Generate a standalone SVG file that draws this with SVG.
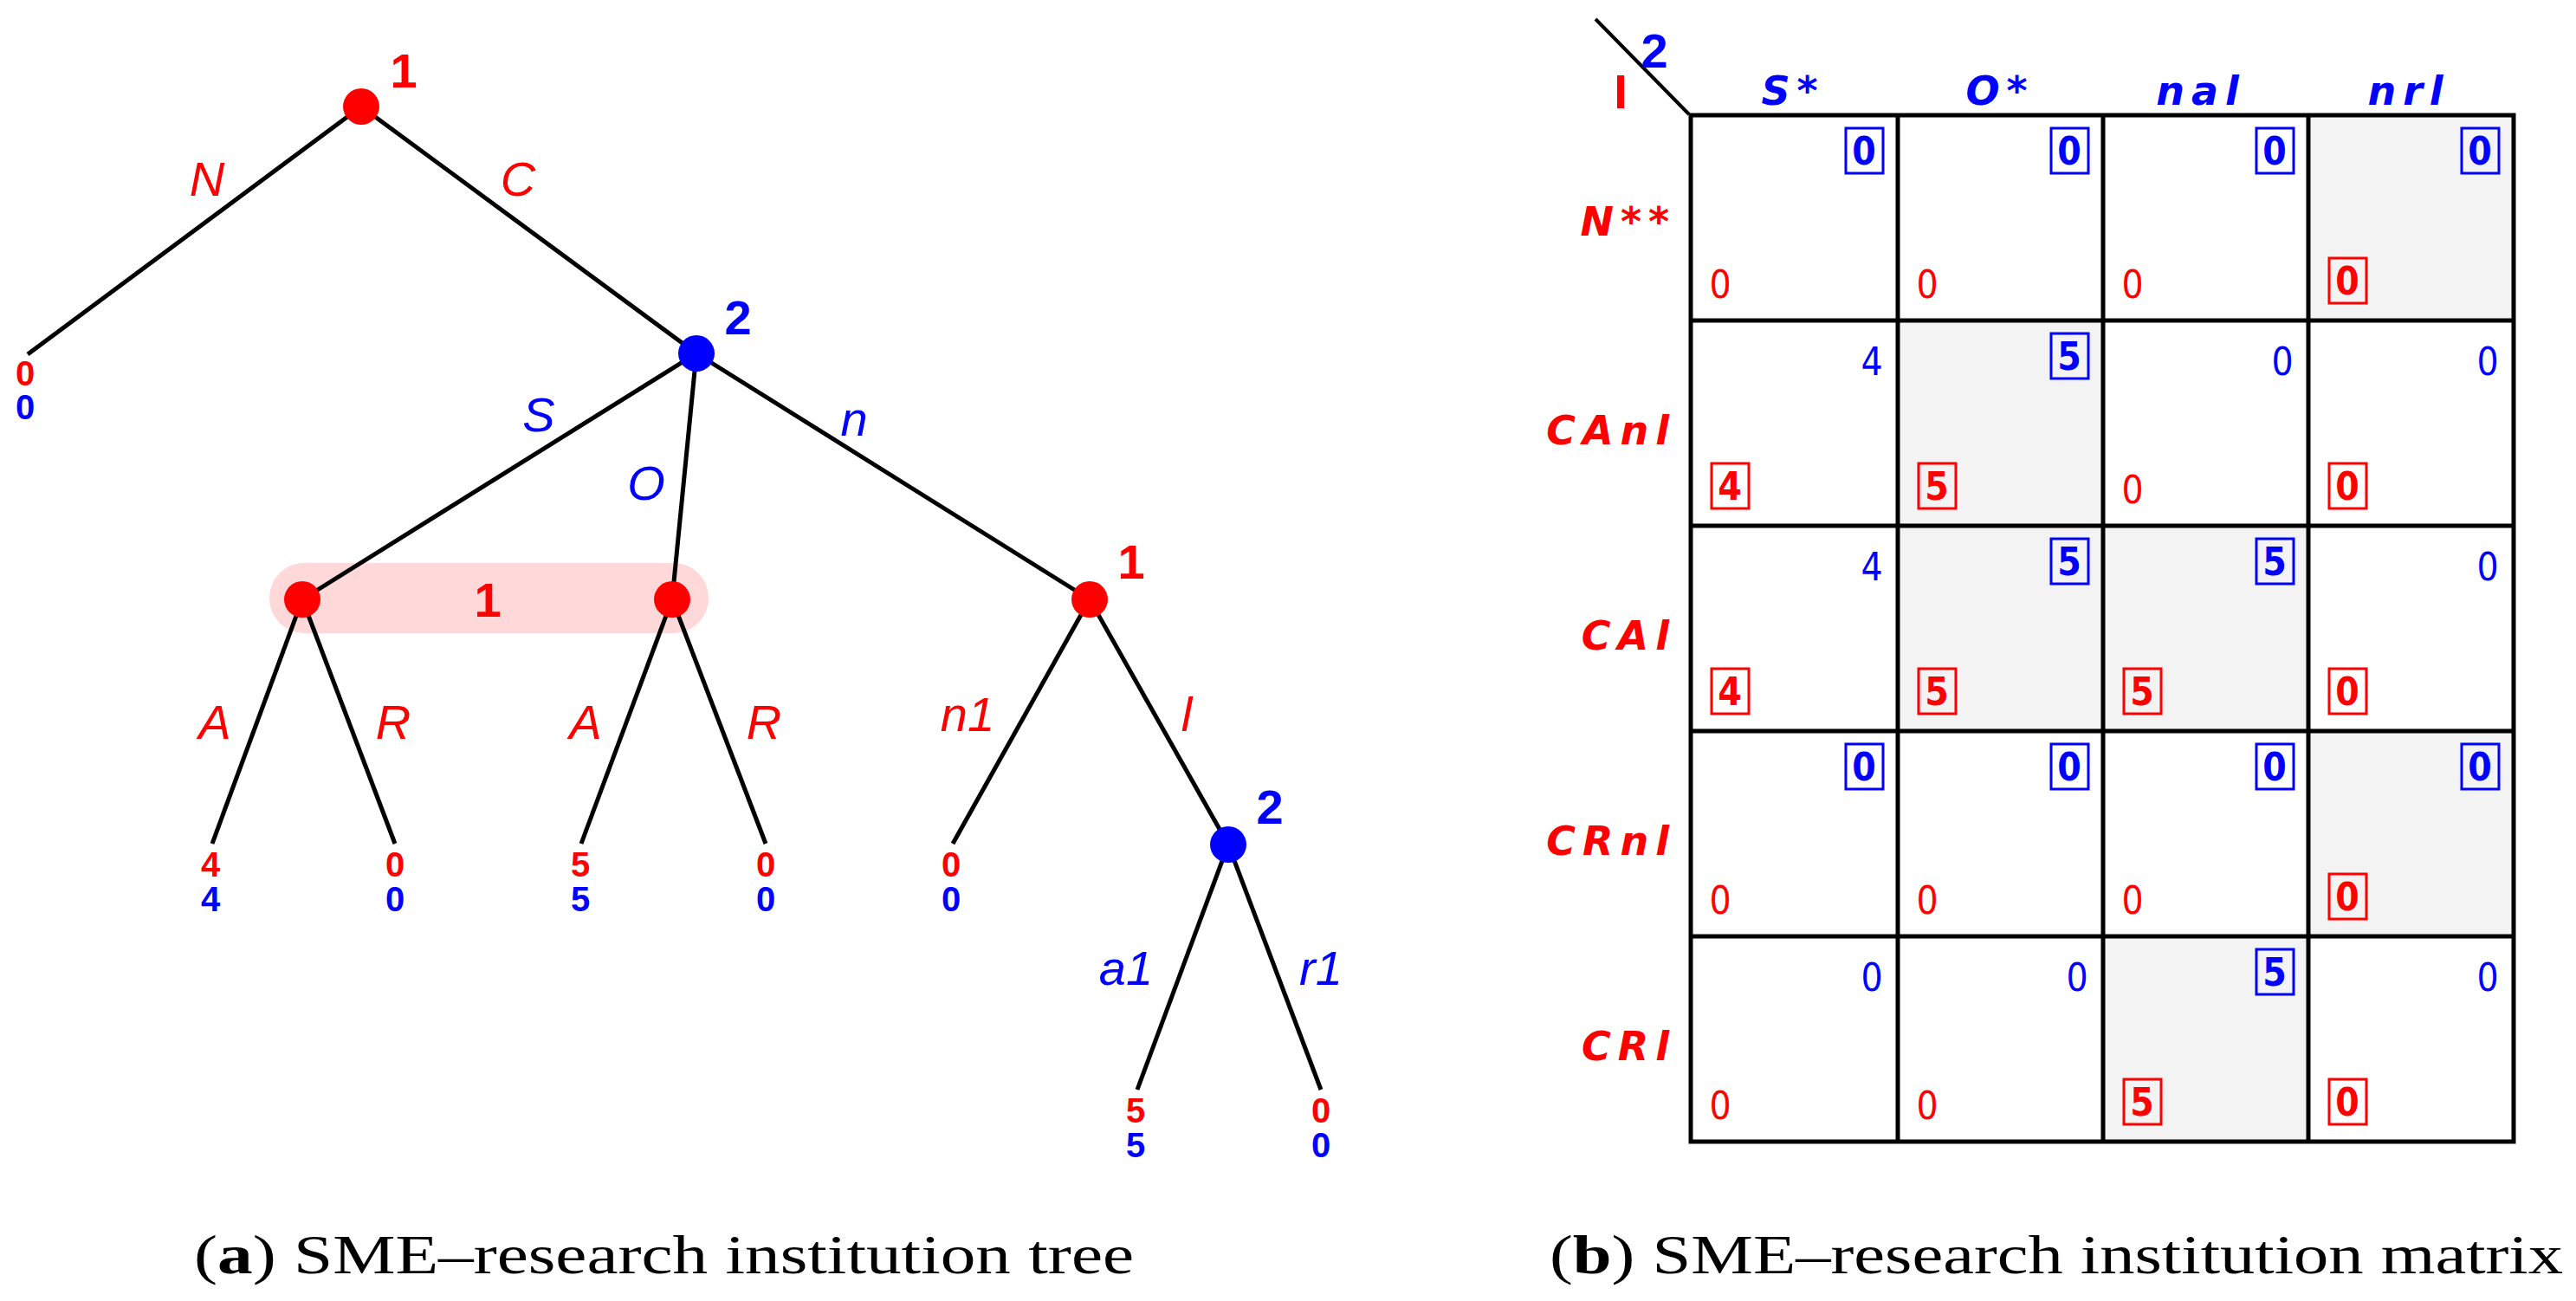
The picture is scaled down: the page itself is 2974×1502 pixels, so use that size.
<svg xmlns="http://www.w3.org/2000/svg" width="2974" height="1502" viewBox="0 0 2974 1502">
<style>
.e{stroke:#000;stroke-width:5;fill:none}
.r{fill:#ff0000}.b{fill:#0000ff}
.lab{font-family:"Liberation Sans",Arial,sans-serif;font-style:italic;font-size:56px;text-anchor:middle;dominant-baseline:central}
.pl{font-family:"Liberation Sans",Arial,sans-serif;font-weight:bold;font-size:56px;text-anchor:middle;dominant-baseline:central}
.pay{font-family:"Liberation Sans",Arial,sans-serif;font-weight:bold;font-size:40px;text-anchor:middle;dominant-baseline:central}
.cap{font-family:"Liberation Serif","Times New Roman",serif;font-size:64px}
.hd{font-family:"DejaVu Sans",sans-serif;font-weight:bold;font-style:italic;font-size:46px;letter-spacing:8px;dominant-baseline:central}
.num{font-family:"DejaVu Sans",sans-serif;font-size:44px;font-stretch:condensed;text-anchor:middle;dominant-baseline:central}
.nb{font-weight:bold}
.grid{stroke:#000;stroke-width:5;fill:none}
.sh{fill:#f3f3f3}
.bb{fill:none;stroke:#0000ff;stroke-width:3}
.rb{fill:none;stroke:#ff0000;stroke-width:3}
</style>
<rect width="2974" height="1502" fill="#fff"/>
<rect x="311" y="650" width="507" height="81" rx="40" fill="#ffd9d9"/>
<g id="edges">
<line class="e" x1="417" y1="123" x2="32" y2="409"/>
<line class="e" x1="417" y1="123" x2="804" y2="408"/>
<line class="e" x1="804" y1="408" x2="349" y2="692"/>
<line class="e" x1="804" y1="408" x2="776" y2="692"/>
<line class="e" x1="804" y1="408" x2="1258" y2="692"/>
<line class="e" x1="349" y1="692" x2="245" y2="974"/>
<line class="e" x1="349" y1="692" x2="456" y2="974"/>
<line class="e" x1="776" y1="692" x2="671" y2="974"/>
<line class="e" x1="776" y1="692" x2="884" y2="974"/>
<line class="e" x1="1258" y1="692" x2="1100" y2="974"/>
<line class="e" x1="1258" y1="692" x2="1418" y2="975"/>
<line class="e" x1="1418" y1="975" x2="1313" y2="1258"/>
<line class="e" x1="1418" y1="975" x2="1525" y2="1258"/>
<text class="lab r" x="239" y="206">N</text>
<text class="lab r" x="598" y="206">C</text>
<text class="lab b" x="622" y="478">S</text>
<text class="lab b" x="746" y="557">O</text>
<text class="lab b" x="986" y="483">n</text>
<text class="lab r" x="248" y="833">A</text>
<text class="lab r" x="454" y="833">R</text>
<text class="lab r" x="676" y="833">A</text>
<text class="lab r" x="882" y="833">R</text>
<text class="lab r" x="1117" y="824">n1</text>
<text class="lab r" x="1370" y="824">l</text>
<text class="lab b" x="1300" y="1117">a1</text>
<text class="lab b" x="1525" y="1117">r1</text>
</g>
<g id="root"><circle class="r" cx="417" cy="123" r="21"/><text class="pl r" x="466" y="81">1</text></g>
<g id="n2"><circle class="b" cx="804" cy="408" r="21"/><text class="pl b" x="852" y="366">2</text></g>
<g id="infoset"><circle class="r" cx="349" cy="692" r="21"/><circle class="r" cx="776" cy="692" r="21"/><text class="pl r" x="563" y="692">1</text></g>
<g id="n1r"><circle class="r" cx="1258" cy="692" r="21"/><text class="pl r" x="1306" y="648">1</text></g>
<g id="n2b"><circle class="b" cx="1418" cy="975" r="21"/><text class="pl b" x="1466" y="931">2</text></g>
<g id="payoffs">
<text class="pay r" x="29" y="431">0</text><text class="pay b" x="29" y="470">0</text>
<text class="pay r" x="243" y="998">4</text><text class="pay b" x="243" y="1038">4</text>
<text class="pay r" x="456" y="998">0</text><text class="pay b" x="456" y="1038">0</text>
<text class="pay r" x="670" y="998">5</text><text class="pay b" x="670" y="1038">5</text>
<text class="pay r" x="884" y="998">0</text><text class="pay b" x="884" y="1038">0</text>
<text class="pay r" x="1098" y="998">0</text><text class="pay b" x="1098" y="1038">0</text>
<text class="pay r" x="1311" y="1282">5</text><text class="pay b" x="1311" y="1322">5</text>
<text class="pay r" x="1525" y="1282">0</text><text class="pay b" x="1525" y="1322">0</text>
</g>
<text class="cap" x="224" y="1470" textLength="1085" lengthAdjust="spacingAndGlyphs">(<tspan font-weight="bold">a</tspan>) SME–research institution tree</text>

<g id="matrix">
<rect class="sh" x="2665" y="133" width="237" height="237"/>
<rect class="sh" x="2191" y="370" width="237" height="237"/>
<rect class="sh" x="2191" y="607" width="237" height="237"/>
<rect class="sh" x="2428" y="607" width="237" height="237"/>
<rect class="sh" x="2665" y="844" width="237" height="237"/>
<rect class="sh" x="2428" y="1081" width="237" height="237"/>
<rect class="grid" x="1952" y="133" width="950" height="1185"/>
<path class="grid" d="M2191 133V1318M2428 133V1318M2665 133V1318M1952 370H2902M1952 607H2902M1952 844H2902M1952 1081H2902"/>
<line x1="1842" y1="22" x2="1950" y2="132" stroke="#000" stroke-width="4"/>
<text class="pl b" x="1910" y="58" font-size="42">2</text>
<text class="pl r" x="1871" y="105" font-size="42">I</text>
<text class="hd b" x="2070" y="105" text-anchor="middle">S*</text>
<text class="hd b" x="2309" y="105" text-anchor="middle">O*</text>
<text class="hd b" x="2541" y="105" text-anchor="middle">nal</text>
<text class="hd b" x="2781" y="105" text-anchor="middle">nrl</text>
<text class="hd r" x="1935" y="256" text-anchor="end">N**</text>
<text class="hd r" x="1935" y="497" text-anchor="end">CAnl</text>
<text class="hd r" x="1935" y="734" text-anchor="end">CAl</text>
<text class="hd r" x="1935" y="971" text-anchor="end">CRnl</text>
<text class="hd r" x="1935" y="1208" text-anchor="end">CRl</text>
</g>
<g id="cells">
<rect class="bb" x="2131" y="148" width="43" height="52"/><text class="num nb b" x="2152" y="174">0</text>
<rect class="bb" x="2368" y="148" width="43" height="52"/><text class="num nb b" x="2389" y="174">0</text>
<rect class="bb" x="2605" y="148" width="43" height="52"/><text class="num nb b" x="2626" y="174">0</text>
<rect class="bb" x="2842" y="148" width="43" height="52"/><text class="num nb b" x="2863" y="174">0</text>
<text class="num r" x="1986" y="328">0</text>
<text class="num r" x="2225" y="328">0</text>
<text class="num r" x="2462" y="328">0</text>
<rect class="rb" x="2689" y="298" width="43" height="52"/><text class="num nb r" x="2710" y="324">0</text>
<text class="num b" x="2161" y="417">4</text>
<rect class="bb" x="2368" y="385" width="43" height="52"/><text class="num nb b" x="2389" y="411">5</text>
<text class="num b" x="2635" y="417">0</text>
<text class="num b" x="2872" y="417">0</text>
<rect class="rb" x="1976" y="535" width="43" height="52"/><text class="num nb r" x="1997" y="561">4</text>
<rect class="rb" x="2215" y="535" width="43" height="52"/><text class="num nb r" x="2236" y="561">5</text>
<text class="num r" x="2462" y="565">0</text>
<rect class="rb" x="2689" y="535" width="43" height="52"/><text class="num nb r" x="2710" y="561">0</text>
<text class="num b" x="2161" y="654">4</text>
<rect class="bb" x="2368" y="622" width="43" height="52"/><text class="num nb b" x="2389" y="648">5</text>
<rect class="bb" x="2605" y="622" width="43" height="52"/><text class="num nb b" x="2626" y="648">5</text>
<text class="num b" x="2872" y="654">0</text>
<rect class="rb" x="1976" y="772" width="43" height="52"/><text class="num nb r" x="1997" y="798">4</text>
<rect class="rb" x="2215" y="772" width="43" height="52"/><text class="num nb r" x="2236" y="798">5</text>
<rect class="rb" x="2452" y="772" width="43" height="52"/><text class="num nb r" x="2473" y="798">5</text>
<rect class="rb" x="2689" y="772" width="43" height="52"/><text class="num nb r" x="2710" y="798">0</text>
<rect class="bb" x="2131" y="859" width="43" height="52"/><text class="num nb b" x="2152" y="885">0</text>
<rect class="bb" x="2368" y="859" width="43" height="52"/><text class="num nb b" x="2389" y="885">0</text>
<rect class="bb" x="2605" y="859" width="43" height="52"/><text class="num nb b" x="2626" y="885">0</text>
<rect class="bb" x="2842" y="859" width="43" height="52"/><text class="num nb b" x="2863" y="885">0</text>
<text class="num r" x="1986" y="1039">0</text>
<text class="num r" x="2225" y="1039">0</text>
<text class="num r" x="2462" y="1039">0</text>
<rect class="rb" x="2689" y="1009" width="43" height="52"/><text class="num nb r" x="2710" y="1035">0</text>
<text class="num b" x="2161" y="1128">0</text>
<text class="num b" x="2398" y="1128">0</text>
<rect class="bb" x="2605" y="1096" width="43" height="52"/><text class="num nb b" x="2626" y="1122">5</text>
<text class="num b" x="2872" y="1128">0</text>
<text class="num r" x="1986" y="1276">0</text>
<text class="num r" x="2225" y="1276">0</text>
<rect class="rb" x="2452" y="1246" width="43" height="52"/><text class="num nb r" x="2473" y="1272">5</text>
<rect class="rb" x="2689" y="1246" width="43" height="52"/><text class="num nb r" x="2710" y="1272">0</text>
</g>
<text class="cap" x="1789" y="1470" textLength="1170" lengthAdjust="spacingAndGlyphs">(<tspan font-weight="bold">b</tspan>) SME–research institution matrix</text>
</svg>
